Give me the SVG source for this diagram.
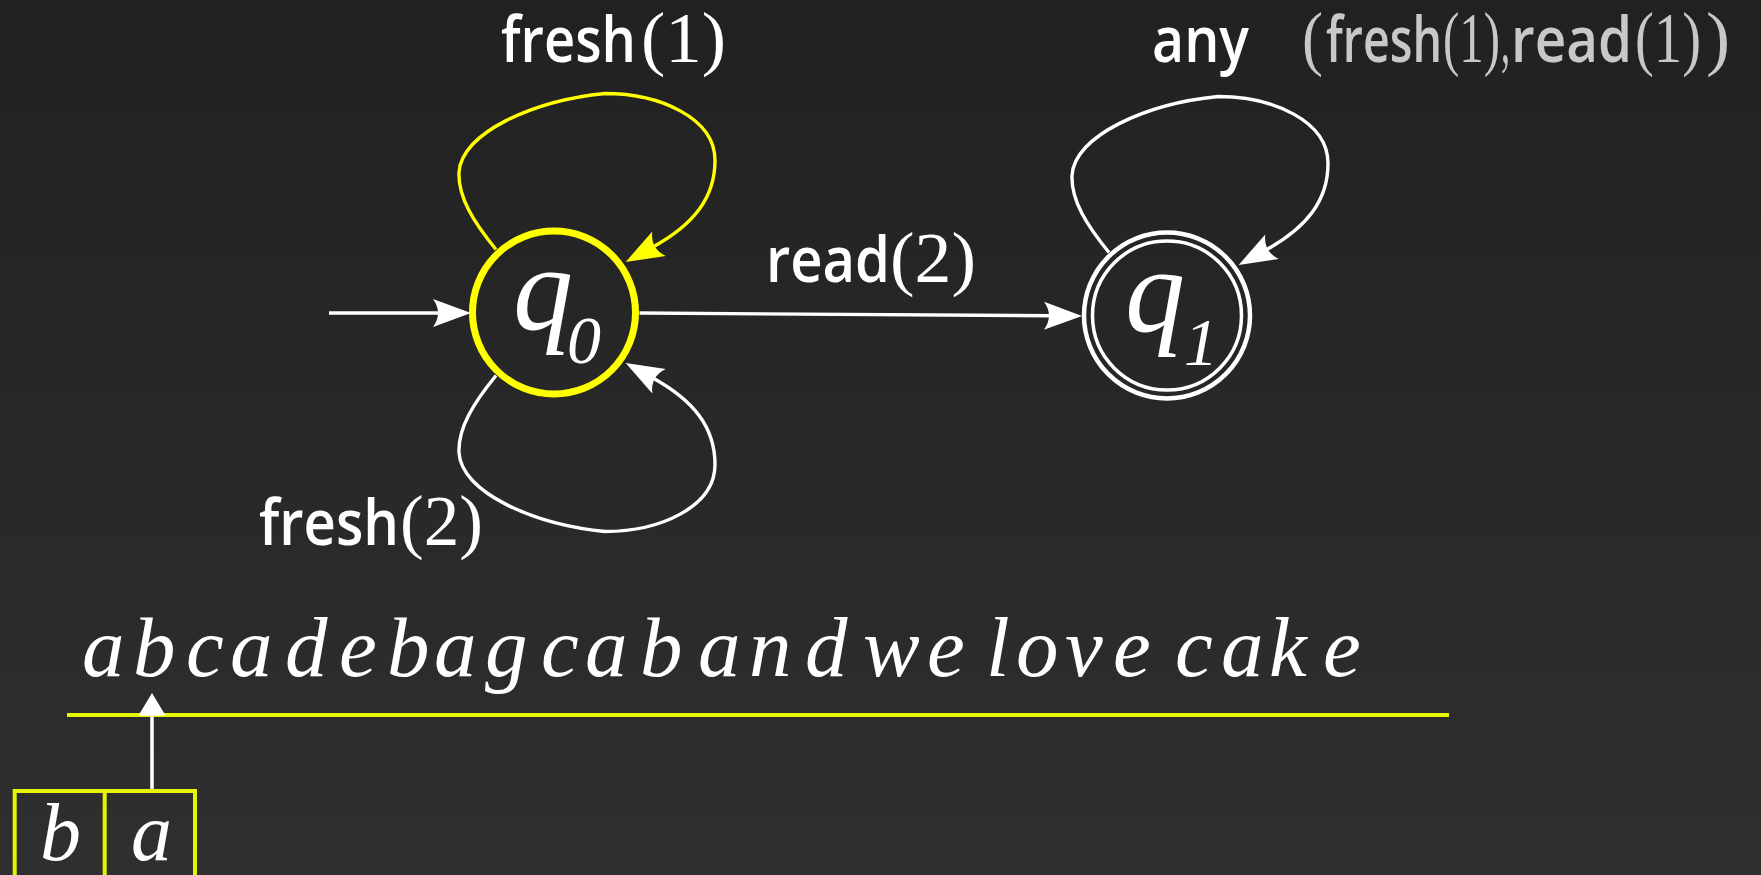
<svg xmlns="http://www.w3.org/2000/svg" width="1761" height="875" viewBox="0 0 1761 875">
<defs>
<linearGradient id="bg" x1="0" y1="0" x2="0" y2="1">
<stop offset="0" stop-color="#212121"/>
<stop offset="1" stop-color="#2f2f2f"/>
</linearGradient>
<marker id="ahW" markerUnits="userSpaceOnUse" viewBox="-40 -16 42 32" markerWidth="42" markerHeight="32" refX="-30" refY="0" orient="auto" overflow="visible">
<path d="M0,0 L-38,-14 Q-28,0 -38,14 Z" fill="#ffffff"/>
</marker>
<marker id="ahY" markerUnits="userSpaceOnUse" viewBox="-40 -16 42 32" markerWidth="42" markerHeight="32" refX="-30" refY="0" orient="auto" overflow="visible">
<path d="M0,0 L-38,-14 Q-28,0 -38,14 Z" fill="#ffff00"/>
</marker>
<style>
.lbl{font-family:"Open Sans","Liberation Sans",Arial,sans-serif;fill:#ffffff}
.sans{font-family:"Open Sans","Liberation Sans",Arial,sans-serif;font-weight:600;font-size:64px}
.ser{font-family:"Liberation Serif","Times New Roman",serif;font-weight:400;font-size:72px}
.grey{fill:#c8c8c8}
.it{font-family:"Liberation Serif","Times New Roman",serif;font-style:italic;fill:#ffffff}
.edge{fill:none;stroke:#ffffff;stroke-width:3.4}
.yedge{fill:none;stroke:#ffff00;stroke-width:3.4}
.tape{fill:none;stroke:#e6f500;stroke-width:4}
</style>
</defs>
<rect x="0" y="0" width="1761" height="875" fill="url(#bg)"/>

<g id="connectors">
<path id="init" class="edge" d="M329,313 L441,313" marker-end="url(#ahW)"/>
<path id="q0-q1" class="edge" d="M639.5,313 L1052,315.8" marker-end="url(#ahW)"/>
<path id="q0-loop-fresh1" class="yedge" transform="translate(554 312.5)" d="M-58,-63 C-80,-90 -96,-115 -95,-140 C-93,-180 -20,-212 51,-219 C105,-219 161,-195 161,-152 C161,-115 140,-88 98,-65" marker-end="url(#ahY)"/>
<path id="q0-loop-fresh2" class="edge" transform="translate(554 312.5)" d="M-58,63 C-80,90 -96,115 -95,140 C-93,180 -20,212 51,219 C105,219 161,195 161,152 C161,115 140,88 98,65" marker-end="url(#ahW)"/>
<path id="q1-loop-any" class="edge" transform="translate(1167 315.5)" d="M-58,-63 C-80,-90 -96,-115 -95,-140 C-93,-180 -20,-212 51,-219 C105,-219 161,-195 161,-152 C161,-115 140,-88 98,-65" marker-end="url(#ahW)"/>
</g>

<g id="q0">
<circle cx="554" cy="312.5" r="81.5" fill="none" stroke="#ffff00" stroke-width="7"/>
<text class="it" x="513" y="329" font-size="120">q<tspan x="567" y="363" font-size="68">0</tspan></text>
</g>

<g id="q1">
<circle cx="1167" cy="315.5" r="83" fill="none" stroke="#ffffff" stroke-width="4.5"/>
<circle cx="1167" cy="315.5" r="74.5" fill="none" stroke="#ffffff" stroke-width="3.5"/>
<text class="it" x="1125" y="331" font-size="120">q<tspan x="1184" y="365" font-size="68">1</tspan></text>
</g>

<g id="labels">
<text class="lbl" y="62"><tspan class="sans" x="501" textLength="135" lengthAdjust="spacingAndGlyphs">fresh</tspan><tspan class="ser" x="641" textLength="85" lengthAdjust="spacingAndGlyphs">(1)</tspan></text>
<text class="lbl" y="545"><tspan class="sans" x="259" textLength="140" lengthAdjust="spacingAndGlyphs">fresh</tspan><tspan class="ser" x="400" textLength="83" lengthAdjust="spacingAndGlyphs">(2)</tspan></text>
<text class="lbl" y="281.5"><tspan class="sans" x="766" textLength="124" lengthAdjust="spacingAndGlyphs">read</tspan><tspan class="ser" x="890" textLength="86" lengthAdjust="spacingAndGlyphs">(2)</tspan></text>
<text class="lbl" y="62"><tspan class="sans" x="1152" textLength="97" lengthAdjust="spacingAndGlyphs">any</tspan></text>
<text class="lbl grey" y="62"><tspan class="ser" x="1302" textLength="21" lengthAdjust="spacingAndGlyphs">(</tspan><tspan class="sans" x="1326" textLength="116" lengthAdjust="spacingAndGlyphs">fresh</tspan><tspan class="ser" x="1443" textLength="57" lengthAdjust="spacingAndGlyphs">(1)</tspan><tspan class="ser" x="1501" textLength="9" lengthAdjust="spacingAndGlyphs">,</tspan><tspan class="sans" x="1511" textLength="121" lengthAdjust="spacingAndGlyphs">read</tspan><tspan class="ser" x="1635" textLength="66" lengthAdjust="spacingAndGlyphs">(1)</tspan><tspan class="ser" x="1706" textLength="24" lengthAdjust="spacingAndGlyphs">)</tspan></text>
</g>

<g id="tape">
<text class="it" font-size="85" y="676" x="82 133 186 230 285 339 387 434 485 541 585 640 680 698 749 805 850 863 927 970 986 1016 1065 1113 1160 1175 1221 1269 1323">abcadebagcab and we love cake</text>
<line class="tape" x1="67" y1="715" x2="1449" y2="715"/>
</g>

<g id="head">
<line x1="152" y1="791" x2="152" y2="712" stroke="#ffffff" stroke-width="3.5"/>
<path d="M152,693 L138.5,715.5 L165.5,715.5 Z" fill="#ffffff"/>
</g>

<g id="buffer">
<rect class="tape" x="14.7" y="791" width="180.3" height="110"/>
<line class="tape" x1="104.7" y1="791" x2="104.7" y2="880"/>
<text class="it" x="40" y="860" font-size="82">b</text>
<text class="it" x="131" y="860" font-size="82">a</text>
</g>
</svg>
